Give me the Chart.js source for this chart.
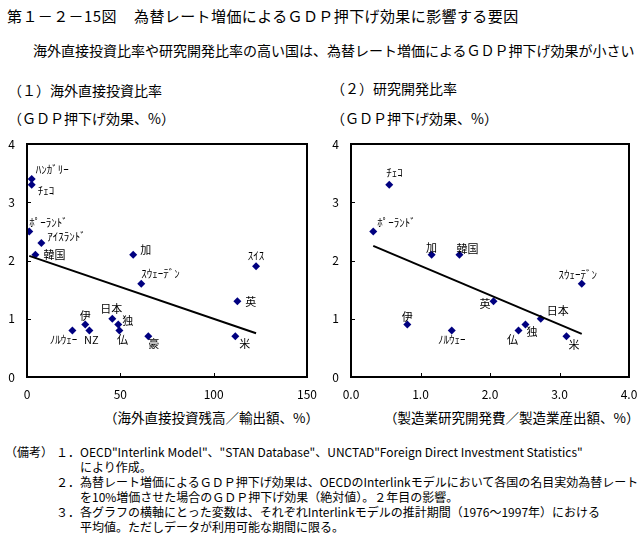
<!DOCTYPE html>
<html><head><meta charset="utf-8">
<script src="https://cdn.jsdelivr.net/npm/chart.js@4"></script>
<style>
html,body{margin:0;padding:0;background:#fff;}
#wrap{position:relative;width:644px;height:539px;overflow:hidden;font-family:"Noto Sans CJK JP","Noto Sans",sans-serif;color:#000;}
.t{position:absolute;white-space:nowrap;line-height:1;}
canvas{position:absolute;}
</style></head><body>
<div id="wrap">
<div class="t" style="left:7px;top:8px;font-size:15px;letter-spacing:0.4px;">第１－２－15図</div>
<div class="t" style="left:134px;top:8px;font-size:15px;letter-spacing:0.4px;">為替レート増価によるＧＤＰ押下げ効果に影響する要因</div>
<div class="t" style="left:33px;top:43px;font-size:14px;">海外直接投資比率や研究開発比率の高い国は、為替レート増価によるＧＤＰ押下げ効果が小さい</div>
<div class="t" style="left:8px;top:83px;font-size:14px;">（１）海外直接投資比率</div>
<div class="t" style="left:331px;top:81px;font-size:14px;">（２）研究開発比率</div>
<div class="t" style="left:8px;top:111px;font-size:14px;">（ＧＤＰ押下げ効果、%）</div>
<div class="t" style="left:331px;top:111px;font-size:14px;">（ＧＤＰ押下げ効果、%）</div>
<div class="t" style="left:104px;top:411px;font-size:13.5px;">（海外直接投資残高／輸出額、%）</div>
<div class="t" style="left:384px;top:411px;font-size:13.5px;">（製造業研究開発費／製造業産出額、%）</div>
<div class="t" style="left:5px;top:446px;font-size:12px;">（備考）</div>
<div class="t" style="left:56px;top:446px;font-size:12px;">１．OECD"Interlink Model"、"STAN Database"、UNCTAD"Foreign Direct Investment Statistics"</div>
<div class="t" style="left:80px;top:461px;font-size:12px;">により作成。</div>
<div class="t" style="left:56px;top:476px;font-size:12px;">２．為替レート増価によるＧＤＰ押下げ効果は、OECDのInterlinkモデルにおいて各国の名目実効為替レート</div>
<div class="t" style="left:80px;top:491px;font-size:12px;">を10%増価させた場合のＧＤＰ押下げ効果（絶対値）。２年目の影響。</div>
<div class="t" style="left:56px;top:506px;font-size:12px;">３．各グラフの横軸にとった変数は、それぞれInterlinkモデルの推計期間（1976～1997年）における</div>
<div class="t" style="left:80px;top:521px;font-size:12px;">平均値。ただしデータが利用可能な期間に限る。</div>
<canvas id="c1" width="320" height="280" style="left:0;top:130px;width:320px;height:280px;"></canvas>
<canvas id="c2" width="324" height="280" style="left:320px;top:130px;width:324px;height:280px;"></canvas>
</div>
<script>
// ---- Data: (1) FDI ratio ----
const countriesL = ['ﾊﾝｶﾞﾘｰ','ﾁｪｺ','ﾎﾟｰﾗﾝﾄﾞ','ｱｲｽﾗﾝﾄﾞ','韓国','加','ｽｲｽ','ｽｳｪｰﾃﾞﾝ','英','日本','伊','独','仏','NZ','ﾉﾙｳｪｰ','豪','米'];
const fdiRatio   = [2.5, 2.5, 1.2, 7.7, 4.5, 56.9, 122.7, 61.2, 112.7, 45.7, 31.2, 48.9, 49.5, 33.4, 24.3, 65.0, 111.6];
const gdpEffectL = [3.4, 3.3, 2.5, 2.3, 2.1, 2.1, 1.9, 1.6, 1.3, 1.0, 0.9, 0.9, 0.8, 0.8, 0.8, 0.7, 0.7];
const trendXL = [1.2, 122.7];
const trendYL = [2.08, 0.75];
const xTicksL = [0, 50, 100, 150];

// ---- Data: (2) R&D ratio ----
const countriesR = ['ﾁｪｺ','ﾎﾟｰﾗﾝﾄﾞ','加','韓国','ｽｳｪｰﾃﾞﾝ','英','日本','伊','ﾉﾙｳｪｰ','仏','独','米'];
const rdRatio    = [0.55, 0.32, 1.16, 1.56, 3.32, 2.05, 2.73, 0.81, 1.45, 2.41, 2.51, 3.10];
const gdpEffectR = [3.3, 2.5, 2.1, 2.1, 1.6, 1.3, 1.0, 0.9, 0.8, 0.8, 0.9, 0.7];
const trendXR = [0.32, 3.32];
const trendYR = [2.25, 0.74];
const xTicksR = [0, 1, 2, 3, 4];
const yTicks = [0, 1, 2, 3, 4];

// ---- label placement (dx, dy, align) ----
const labelPosL = [[4,-9,'left'],[6,6,'left'],[0,-9,'left'],[6,-6,'left'],[8,0,'left'],[7,-5,'left'],
  [0,-11,'center'],[0,-10,'left'],[8,1,'left'],[-1,-10,'center'],[0,-9,'center'],[4,-4,'left'],
  [3,9,'center'],[2,9,'center'],[5,9,'right'],[0,8,'left'],[4,8,'left']];
const labelPosR = [[-3,-12,'left'],[4,-9,'left'],[0,-7,'center'],[-3,-6,'left'],[-4,-9,'center'],
  [-3,3,'right'],[6,-8,'left'],[0,-8,'center'],[0,9,'center'],[-6,9,'center'],[1,7,'left'],[2,9,'left']];

const FONT = '"Noto Sans CJK JP","Noto Sans",sans-serif';

const framePlugin = {
  id:'frame',
  afterDraw(chart){
    const {ctx, chartArea:a, scales:{x,y}} = chart;
    ctx.save();
    ctx.strokeStyle='#000';
    ctx.lineWidth=1;
    y.ticks.forEach(t=>{const p=Math.round(y.getPixelForValue(t.value))+0.5;ctx.beginPath();ctx.moveTo(a.left,p);ctx.lineTo(a.left+4,p);ctx.stroke();});
    x.ticks.forEach(t=>{const p=Math.round(x.getPixelForValue(t.value))+0.5;ctx.beginPath();ctx.moveTo(p,a.bottom);ctx.lineTo(p,a.bottom-4);ctx.stroke();});
    ctx.lineWidth=2;
    ctx.strokeRect(a.left,a.top,a.right-a.left,a.bottom-a.top);
    ctx.restore();
  }
};

const labelPlugin = {
  id:'ptlabels',
  afterDatasetsDraw(chart, args, opts){
    const {ctx} = chart;
    const meta = chart.getDatasetMeta(0);
    ctx.save();
    ctx.fillStyle='#000';
    ctx.textBaseline='middle';
    meta.data.forEach((pt,i)=>{
      const [dx,dy,al] = opts.pos[i];
      ctx.font = '11px ' + FONT;
      ctx.textAlign = al;
      ctx.fillText(opts.names[i], pt.x+dx, pt.y+dy);
    });
    ctx.restore();
  }
};

function makeChart(id, xs, ys, names, pos, tx, ty, xmax, xticks, fmt, padRight, yw){
  const ctx = document.getElementById(id);
  return new Chart(ctx, {
    type:'scatter',
    data:{datasets:[
      {data: xs.map((v,i)=>({x:v,y:ys[i]})), pointStyle:'rectRot', pointRadius:4, pointHoverRadius:4,
       backgroundColor:'#000080', borderColor:'#000080', borderWidth:0, order:2},
      {type:'line', data: tx.map((v,i)=>({x:v,y:ty[i]})), showLine:true, borderColor:'#000', borderWidth:2,
       pointRadius:0, fill:false, order:1}
    ]},
    options:{
      responsive:false, animation:false, devicePixelRatio:1,
      layout:{autoPadding:false, padding:{left:0,top:14,right:padRight,bottom:0}},
      plugins:{legend:{display:false}, tooltip:{enabled:false}, ptlabels:{names, pos}},
      scales:{
        x:{type:'linear', min:0, max:xmax, grid:{display:false, drawTicks:false}, border:{display:false},
           afterBuildTicks(s){ s.ticks = xticks.map(v=>({value:v})); },
           afterFit(s){ s.height = 33; s.paddingLeft = 0; s.paddingRight = 0; s.paddingTop = 0; s.paddingBottom = 0; },
           ticks:{padding:10, color:'#000', font:{family:FONT,size:12}, maxRotation:0, callback:fmt}},
        y:{type:'linear', min:0, max:4, grid:{display:false, drawTicks:false}, border:{display:false},
           afterBuildTicks(s){ s.ticks = yTicks.map(v=>({value:v})); },
           afterFit(s){ s.width = yw; s.paddingLeft = 0; s.paddingRight = 0; s.paddingTop = 0; s.paddingBottom = 0; },
           ticks:{padding:12, color:'#000', font:{family:FONT,size:12}}}
      }
    },
    plugins:[framePlugin, labelPlugin]
  });
}

makeChart('c1', fdiRatio, gdpEffectL, countriesL, labelPosL, trendXL, trendYL, 150, xTicksL, v=>String(v), 13, 27);
makeChart('c2', rdRatio, gdpEffectR, countriesR, labelPosR, trendXR, trendYR, 4, xTicksR, v=>Number(v).toFixed(1), 15, 31);
</script>
</body></html>
